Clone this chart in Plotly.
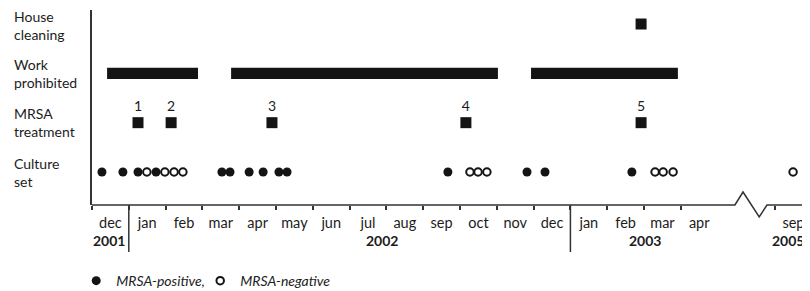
import plotly.graph_objects as go

# Timeline positions in "month units": 0 = 1 Dec 2001, 1 = 1 Jan 2002, ...
# The axis is broken after May 2003; Sep 2005 starts at position 18.56.
month_labels = ["dec", "jan", "feb", "mar", "apr", "may", "jun", "jul", "aug",
                "sep", "oct", "nov", "dec", "jan", "feb", "mar", "apr", "sep"]
month_starts = [0, 1, 2, 3, 4, 5, 6, 7, 8, 9, 10, 11, 12, 13, 14, 15, 16, 18.56]
year_labels = ["2001", "2002", "2003", "2005"]
year_pos = [0.47, 7.88, 15.03, 18.90]
year_separators = [1, 13]

row_labels = ["Culture<br>set", "MRSA<br>treatment", "Work<br>prohibited", "House<br>cleaning"]

culture_positive = [0.27, 0.84, 1.25, 1.74, 3.53, 3.75, 4.27, 4.65, 5.08, 5.30,
                    9.67, 11.82, 12.31, 14.67]
culture_negative = [1.49, 1.98, 2.23, 2.47, 10.27, 10.49, 10.73, 15.30, 15.52, 15.79,
                    19.05]
treatment_pos = [1.25, 2.15, 4.89, 10.16, 14.92]
treatment_num = ["1", "2", "3", "4", "5"]
work_start = [0.41, 3.78, 11.93]
work_end = [2.88, 11.03, 15.92]
cleaning_pos = [14.92]

INK = "#141414"
TXT = "#1c1c1c"
FONT = "Lato"

fig = go.Figure()

fig.add_trace(go.Bar(
    y=[2] * len(work_start), x=[e - s for s, e in zip(work_start, work_end)],
    base=work_start, orientation="h", width=0.225,
    marker=dict(color=INK, line=dict(width=0)), showlegend=False, hoverinfo="skip"))

fig.add_trace(go.Scatter(
    x=cleaning_pos, y=[3] * len(cleaning_pos), mode="markers",
    marker=dict(symbol="square", size=11, color=INK), showlegend=False))

fig.add_trace(go.Scatter(
    x=treatment_pos, y=[1] * len(treatment_pos), mode="markers+text",
    text=treatment_num, textposition="top center",
    textfont=dict(family=FONT, size=14, color=TXT),
    marker=dict(symbol="square", size=11, color=INK), showlegend=False))

fig.add_trace(go.Scatter(
    x=culture_positive, y=[0] * len(culture_positive), mode="markers",
    name="MRSA-positive,",
    marker=dict(symbol="circle", size=9, color=INK, line=dict(width=0))))

fig.add_trace(go.Scatter(
    x=culture_negative, y=[0] * len(culture_negative), mode="markers",
    name="MRSA-negative",
    marker=dict(symbol="circle-open", size=7.5, color=INK, line=dict(width=2, color=INK))))

# empty legend slot so that the last legend label is not clipped
fig.add_trace(go.Scatter(
    x=[None], y=[None], mode="markers", name=" ",
    marker=dict(size=1, color="rgba(0,0,0,0)"), hoverinfo="skip"))

# row labels
for i, lab in enumerate(row_labels):
    fig.add_annotation(x=-0.111, xref="paper", y=i, yref="y", text=lab,
                       showarrow=False, xanchor="left", yanchor="middle", align="left",
                       yshift=-1 if i == 3 else 0,
                       font=dict(family=FONT, size=14, color=TXT))

# year labels
for lab, p in zip(year_labels, year_pos):
    fig.add_annotation(x=p, xref="x", y=-0.18, yref="paper", text="<b>" + lab + "</b>",
                       showarrow=False, xanchor="center", yanchor="middle",
                       font=dict(family=FONT, size=14, color=TXT))

# year separators
for s in year_separators:
    fig.add_shape(type="line", xref="x", yref="paper", x0=s, x1=s, y0=0, y1=-0.241,
                  line=dict(color="#333333", width=1.5))

# baseline with break
fig.add_shape(type="path", xref="x", yref="paper",
              path="M 0,0 L 17.47,0 L 17.69,0.0667 L 18.13,-0.0615 L 18.34,0 L 19.6,0",
              line=dict(color="#333333", width=1.5))

month_centers = [s + 0.5 for s in month_starts]

fig.update_xaxes(
    range=[0, 19.51], showgrid=False, zeroline=False, showline=False,
    tickmode="array", tickvals=month_centers, ticktext=month_labels, ticks="",
    ticklabelstandoff=7,
    tickfont=dict(family=FONT, size=14.5, color=TXT),
    minor=dict(tickmode="array", tickvals=month_starts, ticks="outside",
               ticklen=4, tickwidth=1.5, tickcolor="#333333"))
fig.update_yaxes(
    range=[-0.669, 3.284], showgrid=False, zeroline=False, showline=True,
    linecolor="#333333", linewidth=1.5, showticklabels=False, ticks="")

fig.update_layout(
    width=810, height=291, margin=dict(l=84, r=8, t=2, b=94),
    plot_bgcolor="white", paper_bgcolor="white",
    font=dict(family=FONT, size=14, color=TXT),
    showlegend=True,
    legend=dict(orientation="h", x=-0.022, y=-0.39, xanchor="left", yanchor="middle",
                font=dict(family=FONT, size=14, color=TXT, style="italic"),
                itemwidth=30, entrywidth=79, tracegroupgap=0,
                bgcolor="rgba(0,0,0,0)"),
)

fig.write_html("out.html")
